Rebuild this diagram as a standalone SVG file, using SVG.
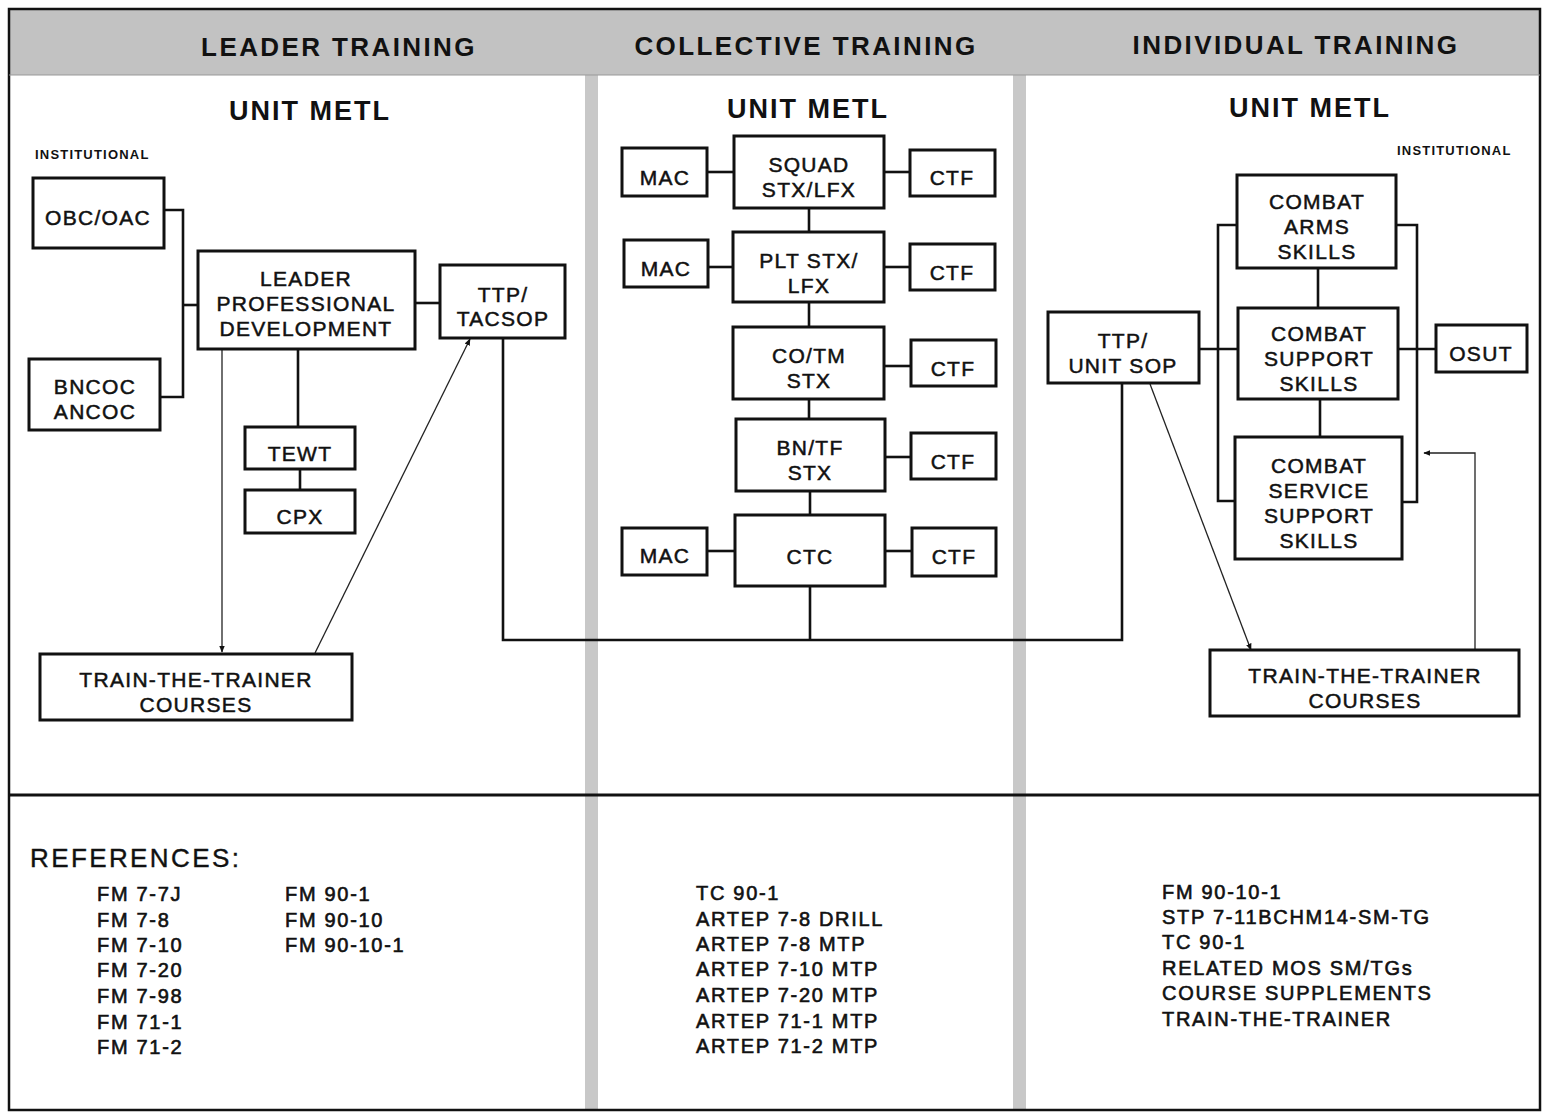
<svg xmlns="http://www.w3.org/2000/svg" width="1544" height="1114" viewBox="0 0 1544 1114">
<defs>
<style>
.box{fill:#fff;stroke:#111;stroke-width:3}
.c{fill:none;stroke:#111;stroke-width:2.6}
.t{fill:none;stroke:#222;stroke-width:1.3}
.n{font-family:"Liberation Sans",Arial,sans-serif;font-size:21px;letter-spacing:1.3px;fill:#111;stroke:#111;stroke-width:0.5;text-anchor:middle}
.h{font-family:"Liberation Sans",Arial,sans-serif;font-size:26px;font-weight:bold;letter-spacing:2.4px;fill:#111;text-anchor:middle}
.u{font-family:"Liberation Sans",Arial,sans-serif;font-size:27px;font-weight:bold;letter-spacing:2px;fill:#111;text-anchor:middle}
.i{font-family:"Liberation Sans",Arial,sans-serif;font-size:13px;font-weight:bold;letter-spacing:1.2px;fill:#111}
.r{font-family:"Liberation Sans",Arial,sans-serif;font-size:20px;letter-spacing:1.7px;fill:#111;stroke:#111;stroke-width:0.6}
</style>
<marker id="ah" viewBox="0 0 10 10" refX="9" refY="5" markerWidth="7" markerHeight="7" orient="auto" markerUnits="userSpaceOnUse">
<path d="M0,1 L10,5 L0,9 z" fill="#111"/>
</marker>
</defs>
<rect x="0" y="0" width="1544" height="1114" fill="#fff"/>
<g id="frame">
<rect x="9" y="9" width="1531" height="66" fill="#c2c2c2"/>
<rect x="585" y="75" width="13" height="1035" fill="#c8c8c8"/>
<rect x="1013" y="75" width="13" height="1035" fill="#c8c8c8"/>
<rect x="9" y="9" width="1531" height="1101" fill="none" stroke="#111" stroke-width="2.5"/>
<line x1="9" y1="75" x2="1540" y2="75" stroke="#999" stroke-width="1"/>
<line x1="9" y1="795" x2="1540" y2="795" stroke="#111" stroke-width="3"/>
</g>
<g id="headers">
<text class="h" x="339" y="56">LEADER TRAINING</text>
<text class="h" x="806" y="55">COLLECTIVE TRAINING</text>
<text class="h" x="1296" y="54">INDIVIDUAL TRAINING</text>
<text class="u" x="310" y="120">UNIT METL</text>
<text class="u" x="808" y="118">UNIT METL</text>
<text class="u" x="1310" y="117">UNIT METL</text>
<text class="i" x="35" y="159">INSTITUTIONAL</text>
<text class="i" x="1397" y="155">INSTITUTIONAL</text>
</g>
<g id="connectors">
<polyline class="c" points="164,210 183,210 183,397 160,397"/>
<line class="c" x1="183" y1="305" x2="198" y2="305"/>
<line class="c" x1="415" y1="303" x2="440" y2="303"/>
<line class="c" x1="298" y1="349" x2="298" y2="427"/>
<line class="c" x1="300" y1="469" x2="300" y2="490"/>
<line class="t" x1="222" y1="349" x2="222" y2="652" marker-end="url(#ah)"/>
<line class="t" x1="315" y1="653" x2="470" y2="339" marker-end="url(#ah)"/>
<polyline class="c" points="503,338 503,640 1122,640 1122,383"/>
<line class="c" x1="810" y1="586" x2="810" y2="640"/>
<line class="c" x1="707" y1="172" x2="734" y2="172"/>
<line class="c" x1="884" y1="172" x2="910" y2="172"/>
<line class="c" x1="809" y1="208" x2="809" y2="232"/>
<line class="c" x1="708" y1="267" x2="733" y2="267"/>
<line class="c" x1="884" y1="267" x2="910" y2="267"/>
<line class="c" x1="809" y1="302" x2="809" y2="327"/>
<line class="c" x1="884" y1="366" x2="911" y2="366"/>
<line class="c" x1="809" y1="399" x2="809" y2="419"/>
<line class="c" x1="885" y1="457" x2="911" y2="457"/>
<line class="c" x1="810" y1="491" x2="810" y2="515"/>
<line class="c" x1="707" y1="551" x2="735" y2="551"/>
<line class="c" x1="885" y1="551" x2="912" y2="551"/>
<line class="c" x1="1318" y1="268" x2="1318" y2="308"/>
<line class="c" x1="1320" y1="399" x2="1320" y2="437"/>
<polyline class="c" points="1237,225 1218,225 1218,501 1235,501"/>
<polyline class="c" points="1396,225 1417,225 1417,502 1402,502"/>
<line class="c" x1="1199" y1="349" x2="1238" y2="349"/>
<line class="c" x1="1398" y1="349" x2="1436" y2="349"/>
<line class="t" x1="1150" y1="384" x2="1251" y2="650" marker-end="url(#ah)"/>
<polyline class="t" points="1475,650 1475,453 1424,453" marker-end="url(#ah)"/>
</g>
<g id="obc"><rect class="box" x="33" y="178" width="131" height="70"/><text class="n" x="98" y="225">OBC/OAC</text></g>
<g id="bncoc"><rect class="box" x="29" y="359" width="131" height="71"/><text class="n" x="95" y="394">BNCOC</text><text class="n" x="95" y="419">ANCOC</text></g>
<g id="lpd"><rect class="box" x="198" y="251" width="217" height="98"/><text class="n" x="306" y="286">LEADER</text><text class="n" x="306" y="311">PROFESSIONAL</text><text class="n" x="306" y="336">DEVELOPMENT</text></g>
<g id="ttp-tacsop"><rect class="box" x="440" y="265" width="125" height="73"/><text class="n" x="503" y="302">TTP/</text><text class="n" x="503" y="326">TACSOP</text></g>
<g id="tewt"><rect class="box" x="245" y="427" width="110" height="42"/><text class="n" x="300" y="461">TEWT</text></g>
<g id="cpx"><rect class="box" x="245" y="490" width="110" height="43"/><text class="n" x="300" y="524">CPX</text></g>
<g id="ttt-left"><rect class="box" x="40" y="654" width="312" height="66"/><text class="n" x="196" y="687">TRAIN-THE-TRAINER</text><text class="n" x="196" y="712">COURSES</text></g>
<g id="squad"><rect class="box" x="734" y="136" width="150" height="72"/><text class="n" x="809" y="172">SQUAD</text><text class="n" x="809" y="197">STX/LFX</text></g>
<g id="mac1"><rect class="box" x="622" y="148" width="85" height="48"/><text class="n" x="665" y="185">MAC</text></g>
<g id="ctf1"><rect class="box" x="910" y="150" width="85" height="46"/><text class="n" x="952" y="185">CTF</text></g>
<g id="plt"><rect class="box" x="733" y="232" width="151" height="70"/><text class="n" x="809" y="268">PLT STX/</text><text class="n" x="809" y="293">LFX</text></g>
<g id="mac2"><rect class="box" x="624" y="240" width="84" height="47"/><text class="n" x="666" y="276">MAC</text></g>
<g id="ctf2"><rect class="box" x="910" y="244" width="85" height="46"/><text class="n" x="952" y="280">CTF</text></g>
<g id="co"><rect class="box" x="733" y="327" width="151" height="72"/><text class="n" x="809" y="363">CO/TM</text><text class="n" x="809" y="388">STX</text></g>
<g id="ctf3"><rect class="box" x="911" y="340" width="85" height="46"/><text class="n" x="953" y="376">CTF</text></g>
<g id="bn"><rect class="box" x="736" y="419" width="149" height="72"/><text class="n" x="810" y="455">BN/TF</text><text class="n" x="810" y="480">STX</text></g>
<g id="ctf4"><rect class="box" x="911" y="433" width="85" height="46"/><text class="n" x="953" y="469">CTF</text></g>
<g id="ctc"><rect class="box" x="735" y="515" width="150" height="71"/><text class="n" x="810" y="564">CTC</text></g>
<g id="mac3"><rect class="box" x="622" y="528" width="85" height="47"/><text class="n" x="665" y="563">MAC</text></g>
<g id="ctf5"><rect class="box" x="912" y="528" width="84" height="48"/><text class="n" x="954" y="564">CTF</text></g>
<g id="cas"><rect class="box" x="1237" y="175" width="159" height="93"/><text class="n" x="1317" y="209">COMBAT</text><text class="n" x="1317" y="234">ARMS</text><text class="n" x="1317" y="259">SKILLS</text></g>
<g id="css"><rect class="box" x="1238" y="308" width="160" height="91"/><text class="n" x="1319" y="341">COMBAT</text><text class="n" x="1319" y="366">SUPPORT</text><text class="n" x="1319" y="391">SKILLS</text></g>
<g id="csss"><rect class="box" x="1235" y="437" width="167" height="122"/><text class="n" x="1319" y="473">COMBAT</text><text class="n" x="1319" y="498">SERVICE</text><text class="n" x="1319" y="523">SUPPORT</text><text class="n" x="1319" y="548">SKILLS</text></g>
<g id="osut"><rect class="box" x="1436" y="325" width="91" height="47"/><text class="n" x="1481" y="361">OSUT</text></g>
<g id="ttp-sop"><rect class="box" x="1048" y="312" width="151" height="71"/><text class="n" x="1123" y="348">TTP/</text><text class="n" x="1123" y="373">UNIT SOP</text></g>
<g id="ttt-right"><rect class="box" x="1210" y="650" width="309" height="66"/><text class="n" x="1365" y="683">TRAIN-THE-TRAINER</text><text class="n" x="1365" y="708">COURSES</text></g>
<g id="references">
<text class="r" x="30" y="867" style="font-size:26px;letter-spacing:2.4px;stroke-width:0.4">REFERENCES:</text>
<text class="r" x="97" y="901">FM 7-7J</text>
<text class="r" x="97" y="927">FM 7-8</text>
<text class="r" x="97" y="952">FM 7-10</text>
<text class="r" x="97" y="977">FM 7-20</text>
<text class="r" x="97" y="1003">FM 7-98</text>
<text class="r" x="97" y="1029">FM 71-1</text>
<text class="r" x="97" y="1054">FM 71-2</text>
<text class="r" x="285" y="901">FM 90-1</text>
<text class="r" x="285" y="927">FM 90-10</text>
<text class="r" x="285" y="952">FM 90-10-1</text>
<text class="r" x="696" y="900">TC 90-1</text>
<text class="r" x="696" y="926">ARTEP 7-8 DRILL</text>
<text class="r" x="696" y="951">ARTEP 7-8 MTP</text>
<text class="r" x="696" y="976">ARTEP 7-10 MTP</text>
<text class="r" x="696" y="1002">ARTEP 7-20 MTP</text>
<text class="r" x="696" y="1028">ARTEP 71-1 MTP</text>
<text class="r" x="696" y="1053">ARTEP 71-2 MTP</text>
<text class="r" x="1162" y="899">FM 90-10-1</text>
<text class="r" x="1162" y="924">STP 7-11BCHM14-SM-TG</text>
<text class="r" x="1162" y="949">TC 90-1</text>
<text class="r" x="1162" y="975">RELATED MOS SM/TGs</text>
<text class="r" x="1162" y="1000">COURSE SUPPLEMENTS</text>
<text class="r" x="1162" y="1026">TRAIN-THE-TRAINER</text>
</g>
</svg>
